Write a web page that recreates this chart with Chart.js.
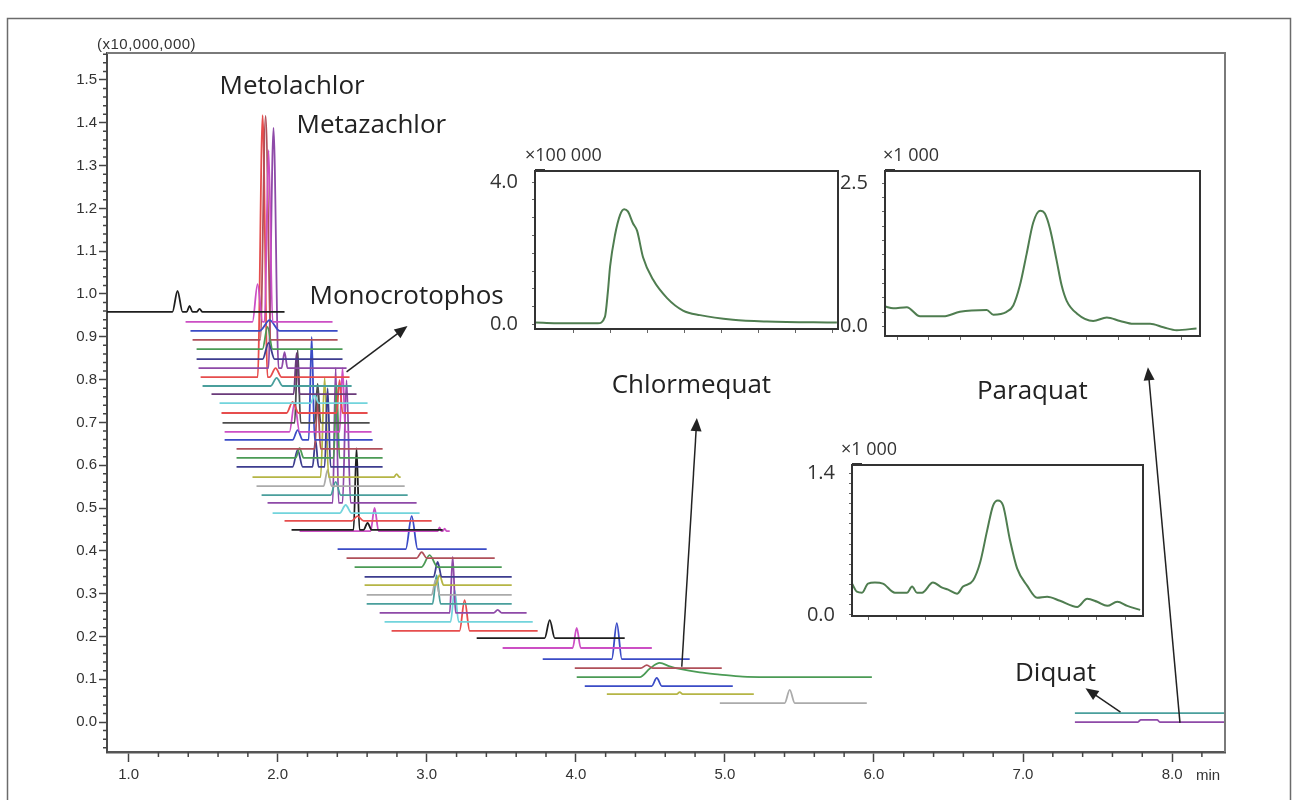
<!DOCTYPE html>
<html>
<head>
<meta charset="utf-8">
<title>Overlaid chromatograms</title>
<script src="https://cdn.jsdelivr.net/npm/chart.js@4.4.1/dist/chart.umd.min.js"></script>
<style>
  html, body { margin: 0; padding: 0; background: #fff; }
  #wrap { position: relative; width: 1298px; height: 800px; overflow: hidden; }
  #wrap canvas { position: absolute; }
</style>
</head>
<body>
<div id="wrap">
  <canvas id="main" width="1298" height="800" style="left:0;top:0"></canvas>
  <canvas id="insChlormequat" width="380" height="215" style="left:470px;top:140px"></canvas>
  <canvas id="insParaquat" width="392" height="222" style="left:820px;top:140px"></canvas>
  <canvas id="insDiquat" width="370" height="210" style="left:785px;top:432px"></canvas>
</div>
<script>
// ---- main chromatogram data (time in min, signal x10,000,000) ----
const xTickValues = [1, 2, 3, 4, 5, 6, 7, 8];
const yTickValues = [0, 0.1, 0.2, 0.3, 0.4, 0.5, 0.6, 0.7, 0.8, 0.9, 1.0, 1.1, 1.2, 1.3, 1.4, 1.5];

// one entry per overlaid trace: baseline level, first and last time
const traceBase  = [0.958, 0.935, 0.914, 0.893, 0.871, 0.848, 0.827, 0.806, 0.785, 0.766,
                    0.745, 0.722, 0.699, 0.678, 0.659, 0.638, 0.617, 0.596, 0.572, 0.551,
                    0.530, 0.512, 0.488, 0.470, 0.449, 0.446, 0.404, 0.383, 0.362, 0.339,
                    0.320, 0.297, 0.276, 0.255, 0.234, 0.213, 0.196, 0.173, 0.147, 0.126,
                    0.105, 0.084, 0.065, 0.044, 0.021, 0.000];
const traceStart = [0.855, 1.382, 1.415, 1.429, 1.456, 1.456, 1.469, 1.483, 1.496, 1.556,
                    1.610, 1.623, 1.630, 1.644, 1.644, 1.724, 1.724, 1.724, 1.831, 1.858,
                    1.892, 1.932, 1.966, 2.046, 2.093, 2.147, 2.402, 2.462, 2.516, 2.583,
                    2.583, 2.597, 2.597, 2.684, 2.717, 2.764, 3.335, 3.509, 3.778, 3.993,
                    4.006, 4.060, 4.208, 4.966, 7.348, 7.348];
const traceEnd   = [2.046, 2.368, 2.402, 2.402, 2.435, 2.435, 2.462, 2.482, 2.496, 2.529,
                    2.603, 2.603, 2.617, 2.630, 2.637, 2.704, 2.704, 2.704, 2.825, 2.852,
                    2.872, 2.932, 2.952, 3.033, 3.107, 3.154, 3.402, 3.456, 3.503, 3.570,
                    3.570, 3.570, 3.570, 3.670, 3.711, 3.744, 4.328, 4.510, 4.764, 4.979,
                    5.986, 5.053, 5.194, 5.952, 8.400, 8.400];
// points of the peaks on each trace [time, signal]
const tracePeaks = [
  [[1.294,0.958],[1.328,1.007],[1.362,0.958],[1.389,0.958],[1.409,0.972],[1.429,0.958],[1.456,0.958],[1.476,0.965],[1.496,0.958]],
  [[1.831,0.935],[1.865,1.023],[1.899,0.935],[1.912,0.935],[1.939,1.336],[1.966,0.935]],
  [[1.879,0.914],[1.946,0.939],[2.013,0.914]],
  [[1.883,0.893],[1.919,1.416],[1.955,0.893]],
  [[1.898,0.871],[1.932,0.923],[1.966,0.871]],
  [[1.899,0.848],[1.939,0.886],[1.979,0.848]],
  [[1.938,0.827],[1.972,1.388],[2.006,0.827],[2.026,0.827],[2.046,0.864],[2.066,0.827]],
  [[1.866,0.806],[1.899,1.418],[1.932,0.806],[1.946,0.806],[1.986,0.827],[2.026,0.806]],
  [[1.953,0.785],[1.993,0.804],[2.033,0.785]],
  [[2.107,0.766],[2.127,0.862],[2.147,0.766]],
  [[2.221,0.745],[2.248,0.764],[2.275,0.745]],
  [[2.060,0.722],[2.100,0.748],[2.140,0.722],[2.395,0.722],[2.415,0.799],[2.435,0.722]],
  [[2.114,0.699],[2.134,0.869],[2.154,0.699],[2.248,0.699],[2.268,0.790],[2.288,0.699]],
  [[2.079,0.678],[2.113,0.745],[2.147,0.678],[2.415,0.678],[2.435,0.827],[2.455,0.678]],
  [[2.100,0.659],[2.134,0.682],[2.168,0.659],[2.208,0.659],[2.228,0.900],[2.248,0.659]],
  [[2.248,0.638],[2.268,0.752],[2.288,0.638]],
  [[2.120,0.617],[2.147,0.640],[2.174,0.617],[2.375,0.617],[2.395,0.787],[2.415,0.617]],
  [[2.100,0.596],[2.134,0.636],[2.168,0.596],[2.234,0.596],[2.254,0.659],[2.274,0.596],[2.315,0.596],[2.335,0.780],[2.355,0.596]],
  [[2.288,0.572],[2.315,0.804],[2.342,0.572],[2.778,0.572],[2.798,0.579],[2.818,0.572]],
  [[2.308,0.551],[2.335,0.589],[2.362,0.551]],
  [[2.355,0.530],[2.389,0.561],[2.423,0.530]],
  [[2.369,0.512],[2.389,0.827],[2.409,0.512],[2.435,0.512],[2.462,0.799],[2.489,0.512]],
  [[2.416,0.488],[2.456,0.507],[2.496,0.488]],
  [[2.496,0.470],[2.536,0.481],[2.576,0.470]],
  [[2.509,0.449],[2.529,0.640],[2.549,0.449],[2.576,0.449],[2.603,0.465],[2.630,0.449]],
  [[2.623,0.446],[2.650,0.500],[2.677,0.446],[3.073,0.446],[3.086,0.455],[3.099,0.446],[3.107,0.446],[3.120,0.452],[3.133,0.446]],
  [[2.859,0.404],[2.899,0.481],[2.939,0.404]],
  [[2.932,0.383],[2.966,0.397],[3.000,0.383]],
  [[2.965,0.362],[3.019,0.390],[3.073,0.362]],
  [[3.046,0.339],[3.073,0.374],[3.100,0.339]],
  [[3.059,0.320],[3.086,0.343],[3.113,0.320]],
  [[3.033,0.297],[3.060,0.332],[3.087,0.297]],
  [[3.039,0.276],[3.066,0.343],[3.093,0.276]],
  [[3.154,0.255],[3.174,0.386],[3.194,0.255],[3.449,0.255],[3.476,0.262],[3.503,0.255]],
  [[3.160,0.234],[3.187,0.308],[3.214,0.234]],
  [[3.220,0.213],[3.254,0.285],[3.288,0.213]],
  [[3.791,0.196],[3.825,0.238],[3.859,0.196]],
  [[3.979,0.173],[4.006,0.220],[4.033,0.173]],
  [[4.241,0.147],[4.275,0.231],[4.309,0.147]],
  [[4.436,0.126],[4.476,0.133],[4.516,0.126]],
  [[4.429,0.105],[4.497,0.125],[4.563,0.138],[4.630,0.130],[4.697,0.124],[4.831,0.116],[4.966,0.111],[5.120,0.106],[5.281,0.105]],
  [[4.509,0.084],[4.543,0.103],[4.577,0.084]],
  [[4.677,0.065],[4.697,0.070],[4.717,0.065]],
  [[5.401,0.044],[5.435,0.075],[5.469,0.044]],
  [],
  [[7.771,0.000],[7.790,0.005],[7.900,0.005],[7.918,0.000]]
];

// compound labels and the arrows pointing at them (data coordinates)
const compoundNames = ['Metolachlor', 'Metazachlor', 'Monocrotophos', 'Chlormequat', 'Paraquat', 'Diquat'];
const labelX = [1.610, 2.127, 2.214, 4.241, 6.691, 6.946];
const labelY = [1.484, 1.393, 0.993, 0.787, 0.771, 0.114];
const arrowFrom = [[2.462, 0.818], [4.711, 0.129], [8.053, -0.002], [7.654, 0.023]];
const arrowTo   = [[2.871, 0.925], [4.812, 0.710], [7.838, 0.829], [7.419, 0.079]];

// ---- inset chromatograms ----
const chlormequatTrace = [[4.297,0.05],[4.392,0.03],[4.467,0.03],[4.486,0.21],[4.494,0.92],[4.500,1.63],[4.513,2.50],[4.527,3.08],
  [4.538,3.24],[4.548,3.18],[4.562,2.84],[4.573,2.63],[4.589,1.89],[4.616,1.26],[4.654,0.74],[4.697,0.39],[4.743,0.26],
  [4.832,0.13],[4.924,0.08],[5.113,0.05]];
const chlormequatXTicks = [4.4, 4.5, 4.6, 4.7, 4.8, 4.9, 5.0, 5.1];
const chlormequatYTicks = [0, 0.5, 1.0, 1.5, 2.0, 2.5, 3.0, 3.5, 4.0];
const chlormequatYLabels = [0, 4.0];

const paraquatTrace = [[7.562,0.35],[7.588,0.32],[7.631,0.34],[7.673,0.18],[7.747,0.18],[7.799,0.26],[7.884,0.29],[7.905,0.21],
  [7.947,0.26],[7.968,0.37],[7.989,0.72],[8.010,1.26],[8.031,1.81],[8.053,2.02],[8.068,1.97],[8.084,1.71],[8.105,1.16],
  [8.121,0.72],[8.137,0.45],[8.169,0.23],[8.221,0.10],[8.264,0.16],[8.306,0.10],[8.348,0.05],[8.401,0.05],[8.443,-0.01],
  [8.485,-0.06],[8.548,-0.03]];
const paraquatXTicks = [7.6, 7.7, 7.8, 7.9, 8.0, 8.1, 8.2, 8.3, 8.4, 8.5];
const paraquatYTicks = [0, 0.25, 0.5, 0.75, 1.0, 1.25, 1.5, 1.75, 2.0, 2.25, 2.5];
const paraquatYLabels = [0, 2.5];

const diquatTrace = [[7.244,0.31],[7.261,0.23],[7.279,0.22],[7.300,0.31],[7.324,0.32],[7.352,0.31],[7.394,0.22],[7.436,0.22],
  [7.454,0.28],[7.471,0.22],[7.489,0.22],[7.527,0.32],[7.559,0.27],[7.580,0.25],[7.611,0.21],[7.632,0.28],[7.667,0.34],
  [7.692,0.52],[7.716,0.83],[7.737,1.08],[7.754,1.13],[7.772,1.08],[7.796,0.74],[7.821,0.46],[7.856,0.29],[7.891,0.17],
  [7.926,0.18],[7.971,0.14],[8.031,0.08],[8.066,0.16],[8.101,0.13],[8.136,0.09],[8.171,0.13],[8.206,0.09],[8.251,0.05]];
const diquatXTicks = [7.3, 7.4, 7.5, 7.6, 7.7, 7.8, 7.9, 8.0, 8.1, 8.2];
const diquatYTicks = [0, 0.1, 0.2, 0.3, 0.4, 0.5, 0.6, 0.7, 0.8, 0.9, 1.0, 1.1, 1.2, 1.3, 1.4];
const diquatYLabels = [0, 1.4];

// ---- styles ----
const K = '#1e1e1e', MG = '#cc4fc4', BL = '#3a4bc6', BR = '#b0505a', GR = '#4b9b55', NV = '#3d3d8f', PU = '#8e4aa8',
      RD = '#e64d4d', TL = '#4a9f9c', DP = '#6a3a7a', CY = '#72d4dc', DG = '#4d4d4d', OL = '#b5b545', GY = '#ababab';
const traceColors = [K, MG, BL, BR, GR, NV, PU, RD, TL, DP, CY, RD, DG, MG, BL, BR, GR, NV, OL, GY, TL, PU, CY, RD,
                     K, MG, BL, BR, GR, NV, OL, GY, TL, PU, CY, RD, K, MG, BL, BR, GR, BL, OL, GY, TL, PU];

const tickFont = { family: "'Liberation Sans', Arial, sans-serif", size: 15 };
const labelFont = "26px 'Open Sans', sans-serif";

// --- decoration of the main plot: frame, minor ticks, labels, arrows ---
function drawArrow(ctx, x1, y1, x2, y2) {
  const ang = Math.atan2(y2 - y1, x2 - x1);
  const len = 13, half = 5.5;
  ctx.beginPath();
  ctx.moveTo(x1, y1);
  ctx.lineTo(x2 - Math.cos(ang) * len * 0.8, y2 - Math.sin(ang) * len * 0.8);
  ctx.stroke();
  ctx.beginPath();
  ctx.moveTo(x2, y2);
  ctx.lineTo(x2 - Math.cos(ang) * len - Math.sin(ang) * half, y2 - Math.sin(ang) * len + Math.cos(ang) * half);
  ctx.lineTo(x2 - Math.cos(ang) * len + Math.sin(ang) * half, y2 - Math.sin(ang) * len - Math.cos(ang) * half);
  ctx.closePath();
  ctx.fill();
}

const mainDecor = {
  id: 'mainDecor',
  afterDraw(chart) {
    const { ctx, chartArea: a } = chart;
    const xs = chart.scales.x, ys = chart.scales.y;
    ctx.save();
    // outer figure frame
    ctx.strokeStyle = '#6b6b6b';
    ctx.lineWidth = 1.5;
    ctx.beginPath();
    ctx.moveTo(7.5, 800); ctx.lineTo(7.5, 18.5); ctx.lineTo(1290.5, 18.5); ctx.lineTo(1290.5, 800);
    ctx.stroke();
    // top + right frame of the plot
    ctx.strokeStyle = '#7a7a7a';
    ctx.lineWidth = 2;
    ctx.beginPath();
    ctx.moveTo(a.left, a.top); ctx.lineTo(a.right, a.top); ctx.lineTo(a.right, a.bottom);
    ctx.stroke();
    // minor ticks
    ctx.strokeStyle = '#444';
    ctx.lineWidth = 1.5;
    ctx.beginPath();
    for (let i = -3; i <= 78; i++) {
      if (i % 5 === 0) continue;
      const py = ys.getPixelForValue(i * 0.02);
      if (py < a.top || py > a.bottom) continue;
      ctx.moveTo(a.left - 4, py); ctx.lineTo(a.left, py);
    }
    for (let i = 5; i <= 41; i++) {
      if (i % 5 === 0) continue;
      const px = xs.getPixelForValue(i * 0.2);
      if (px > a.right) continue;
      ctx.moveTo(px, a.bottom); ctx.lineTo(px, a.bottom + 5);
    }
    ctx.stroke();
    // multiplier and unit
    ctx.fillStyle = '#333';
    ctx.font = "15px 'Liberation Sans', Arial, sans-serif";
    ctx.textBaseline = 'middle';
    ctx.textAlign = 'left';
    ctx.letterSpacing = '0.5px';
    ctx.fillText('(x10,000,000)', 97, 45);
    ctx.letterSpacing = '0px';
    ctx.fillText('min', 1196, 776);
    // compound names
    ctx.fillStyle = '#222';
    ctx.font = labelFont;
    compoundNames.forEach((n, i) => {
      ctx.fillText(n, xs.getPixelForValue(labelX[i]), ys.getPixelForValue(labelY[i]));
    });
    // arrows
    ctx.strokeStyle = '#222';
    ctx.lineWidth = 1.5;
    arrowFrom.forEach((f, i) => {
      drawArrow(ctx, xs.getPixelForValue(f[0]), ys.getPixelForValue(f[1]),
                xs.getPixelForValue(arrowTo[i][0]), ys.getPixelForValue(arrowTo[i][1]));
    });
    ctx.restore();
  }
};

const traceSets = traceColors.map((c, i) => {
  const pts = [[traceStart[i], traceBase[i]], ...tracePeaks[i], [traceEnd[i], traceBase[i]]];
  return {
    data: pts.map(p => ({ x: p[0], y: p[1] })),
    borderColor: c,
    borderWidth: 1.8,
    showLine: true,
    pointRadius: 0,
    cubicInterpolationMode: 'monotone'
  };
});

new Chart(document.getElementById('main'), {
  type: 'scatter',
  data: { datasets: traceSets },
  options: {
    responsive: false,
    animation: false,
    events: [],
    layout: { padding: { top: 53, right: 73, left: 0, bottom: 0 } },
    plugins: { legend: { display: false }, tooltip: { enabled: false } },
    scales: {
      x: {
        type: 'linear', min: 0.855, max: 8.355,
        afterBuildTicks: s => { s.ticks = xTickValues.map(v => ({ value: v })); },
        afterFit: s => { s.height = 48; },
        ticks: { callback: v => v.toFixed(1), font: tickFont, color: '#333', padding: 4, maxRotation: 0, autoSkip: false },
        grid: { drawOnChartArea: false, tickLength: 10, tickColor: '#444', tickWidth: 1.5 },
        border: { color: '#555', width: 2.5 }
      },
      y: {
        type: 'linear', min: -0.07, max: 1.563,
        afterBuildTicks: s => { s.ticks = yTickValues.map(v => ({ value: v })); },
        afterFit: s => { s.width = 107; },
        ticks: { callback: v => v.toFixed(1), font: tickFont, color: '#333', padding: 2, autoSkip: false },
        grid: { drawOnChartArea: false, tickLength: 8, tickColor: '#444', tickWidth: 1.5 },
        border: { color: '#4a4a4a', width: 2 }
      }
    }
  },
  plugins: [mainDecor]
});

// --- insets ---
function makeInset(id, trace, xr, yr, xTicks, yTicks, yLabels, unit, g) {
  const insetDecor = {
    id: 'insetDecor',
    afterDraw(chart) {
      const { ctx, chartArea: a } = chart;
      ctx.save();
      ctx.strokeStyle = '#333';
      ctx.lineWidth = 2;
      ctx.strokeRect(a.left, a.top, a.right - a.left, a.bottom - a.top);
      ctx.fillStyle = '#333';
      ctx.fillRect(a.left, a.top - 2, 10, 3);
      ctx.font = "18px 'Open Sans', sans-serif";
      ctx.textBaseline = 'middle';
      ctx.textAlign = 'left';
      ctx.fillText(unit, a.left + g.unitDx, a.top - 15);
      ctx.restore();
    }
  };
  return new Chart(document.getElementById(id), {
    type: 'scatter',
    data: {
      datasets: [{
        data: trace.map(p => ({ x: p[0], y: p[1] })),
        showLine: true, borderColor: '#4f7d50', borderWidth: 2, pointRadius: 0,
        cubicInterpolationMode: 'monotone'
      }]
    },
    options: {
      responsive: false,
      animation: false,
      events: [],
      layout: { padding: { top: g.top, right: g.right, left: 0, bottom: 0 } },
      plugins: { legend: { display: false }, tooltip: { enabled: false } },
      scales: {
        x: {
          type: 'linear', min: xr[0], max: xr[1],
          afterBuildTicks: s => { s.ticks = xTicks.map(v => ({ value: v })); },
          afterFit: s => { s.height = g.xh; },
          ticks: { callback: () => '', font: { size: 4 }, padding: 0, maxRotation: 0, autoSkip: false },
          grid: { drawOnChartArea: false, tickLength: 4, tickColor: '#666', tickWidth: 1 },
          border: { color: '#333', width: 2 }
        },
        y: {
          type: 'linear', min: yr[0], max: yr[1],
          afterBuildTicks: s => { s.ticks = yTicks.map(v => ({ value: v })); },
          afterFit: s => { s.width = g.yw; },
          ticks: {
            callback: v => yLabels.some(l => Math.abs(l - v) < 1e-6) ? v.toFixed(1) : '',
            font: { family: "'Open Sans', sans-serif", size: 20 }, color: '#333', padding: 14, autoSkip: false
          },
          grid: { drawOnChartArea: false, tickLength: 3, tickColor: '#666', tickWidth: 1 },
          border: { color: '#333', width: 2 }
        }
      }
    },
    plugins: [insetDecor]
  });
}

makeInset('insChlormequat', chlormequatTrace, [4.297, 5.116], [-0.13, 4.316],
  chlormequatXTicks, chlormequatYTicks, chlormequatYLabels, '\u00d7100 000',
  { top: 31, right: 12, xh: 15, yw: 65, unitDx: -10 });
makeInset('insParaquat', paraquatTrace, [7.562, 8.559], [-0.162, 2.711],
  paraquatXTicks, paraquatYTicks, paraquatYLabels, '\u00d71 000',
  { top: 31, right: 12, xh: 14, yw: 65, unitDx: -2 });
makeInset('insDiquat', diquatTrace, [7.244, 8.261], [-0.01, 1.48],
  diquatXTicks, diquatYTicks, diquatYLabels, '\u00d71 000',
  { top: 33, right: 12, xh: 15, yw: 67, unitDx: -11 });
</script>
</body>
</html>
